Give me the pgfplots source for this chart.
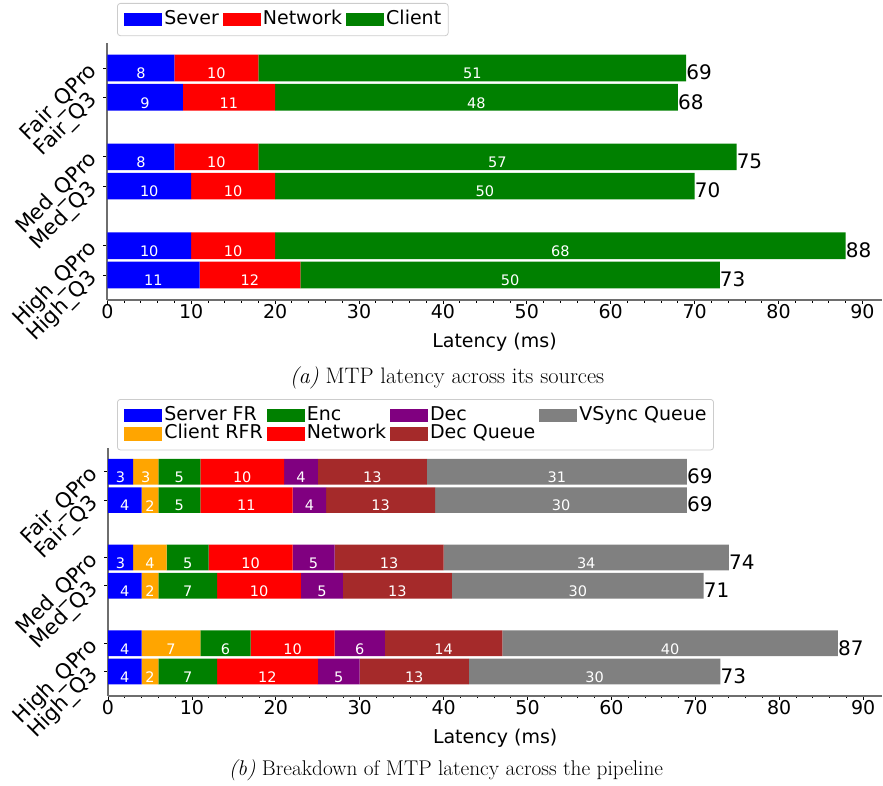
\documentclass[border=0pt]{standalone}
\usepackage{fontspec}
\newfontfamily\dejavu{DejaVu Sans}
\usepackage{pgfplots}
\pgfplotsset{compat=1.18}
\usepackage{pgfplotstable}
\newcommand\df[1]{\dejavu\fontsize{#1}{#1}\selectfont}

\definecolor{mgreen}{RGB}{0,128,0}
\definecolor{morange}{RGB}{255,165,0}
\definecolor{mpurple}{RGB}{128,0,128}
\definecolor{mbrown}{RGB}{165,42,42}
\definecolor{mgray}{RGB}{128,128,128}
\definecolor{spine}{RGB}{110,110,110}

% panel (a): Server, Network, Client
\pgfplotstableread{
y server network client total
-0.165 11 12 50 73
0.165 10 10 68 88
0.835 10 10 50 70
1.165 8 10 57 75
1.835 9 11 48 68
2.165 8 10 51 69
}\tabA

% panel (b): pipeline stages
\pgfplotstableread{
y sfr crfr enc net dec decq vsync total
-0.165 4 2 7 12 5 13 30 73
0.165 4 7 6 10 6 14 40 87
0.835 4 2 7 10 5 13 30 71
1.165 3 4 5 10 5 13 34 74
1.835 4 2 5 11 4 13 30 69
2.165 3 3 5 10 4 13 31 69
}\tabB

\pgfplotsset{
  /pgf/number format/assume math mode=true,
  barleg/.style={legend image code/.code={\fill[##1, sharp corners] (0pt,-6.7pt) rectangle (38pt,6.7pt);}},
  base/.style={
    scale only axis, width=774.4pt,
    xmin=0, xmax=92.3, ymin=-0.4465, ymax=2.4465,
  },
  frame/.style={
    base,
    axis lines=left,
    axis line style={-, draw=spine, line width=1.6pt},
    tick align=outside,
    major tick length=4pt, minor tick length=2.5pt,
    tick style={black, line width=0.8pt},
    xtick={0,10,...,90}, minor x tick num=4,
    ytick={-0.165,0.165,0.835,1.165,1.835,2.165},
    yticklabels={High\_Q3,High\_QPro,Med\_Q3,Med\_QPro,Fair\_Q3,Fair\_QPro},
    ytick style={draw=black},
    yticklabel style={rotate=45, anchor=east, inner sep=0pt, font=\df{21}},
    yticklabel shift=9pt,
    xticklabel style={font=\df{19}, inner sep=0pt, anchor=north},
    xlabel={Latency (ms)},
    xlabel style={font=\df{19}, at={(axis description cs:0.5,0)}, anchor=base},
    xbar stacked, bar width=0.3, bar shift=0pt,
    legend style={anchor=north west, draw=black!20, line width=0.8pt, rounded corners=3pt,
      inner xsep=7pt, inner ysep=7pt, font=\df{19},
      nodes={inner sep=0pt, text height=14pt, text depth=4.3pt},
      /tikz/every even column/.append style={column sep=4pt},
      /tikz/every odd column/.append style={column sep=2pt}},
    legend cell align=left,
  },
  lab/.style={only marks, mark=*, mark size=0pt, mark options={draw=none, fill=none},
    nodes near coords, point meta=explicit,
    nodes near coords style={font=\df{14.5}, text=white, anchor=center, inner sep=0pt, yshift=-5.5pt}},
  tot/.style={lab, nodes near coords style={font=\df{20}, text=black, anchor=west, inner sep=0pt, yshift=1pt}},
}

\begin{document}
\begin{tikzpicture}
\useasboundingbox (0pt,0pt) rectangle (883pt,-786pt);

% ---------------- panel (a) ----------------
\begin{axis}[frame, at={(107.3pt,-300pt)}, anchor=south west, height=257pt,
  xlabel style={yshift=-47pt},
  legend columns=3,
  legend style={at={(axis description cs:0,1)}, xshift=9.7pt, yshift=40pt}]
\addplot[fill=blue, draw=none, barleg] table[x=server, y=y]{\tabA};
\addplot[fill=red, draw=none, barleg] table[x=network, y=y]{\tabA};
\addplot[fill=mgreen, draw=none, barleg] table[x=client, y=y]{\tabA};
\legend{Sever,Network,Client}
\end{axis}

\begin{axis}[base, at={(107.3pt,-300pt)}, anchor=south west, height=257pt, hide axis, clip=false]
\addplot[lab] table[x expr=0.5*\thisrow{server}, y=y, meta=server]{\tabA};
\addplot[lab] table[x expr=\thisrow{server}+0.5*\thisrow{network}, y=y, meta=network]{\tabA};
\addplot[lab] table[x expr=\thisrow{server}+\thisrow{network}+0.5*\thisrow{client}, y=y, meta=client]{\tabA};
\addplot[tot] table[x expr=\thisrow{server}+\thisrow{network}+\thisrow{client}, y=y, meta=total]{\tabA};
\end{axis}

\node[anchor=base, font=\fontsize{22.4}{22.4}\selectfont] at (447pt,-383pt) {\textit{(a)} MTP latency across its sources};

% ---------------- panel (b) ----------------
\begin{axis}[frame, at={(108pt,-695.7pt)}, anchor=south west, height=248pt,
  xlabel style={yshift=-47.3pt},
  legend columns=4,
  legend style={at={(axis description cs:0,1)}, xshift=9pt, yshift=48.7pt}]
\addplot[fill=blue, draw=none, forget plot] table[x=sfr, y=y]{\tabB};
\addplot[fill=morange, draw=none, forget plot] table[x=crfr, y=y]{\tabB};
\addplot[fill=mgreen, draw=none, forget plot] table[x=enc, y=y]{\tabB};
\addplot[fill=red, draw=none, forget plot] table[x=net, y=y]{\tabB};
\addplot[fill=mpurple, draw=none, forget plot] table[x=dec, y=y]{\tabB};
\addplot[fill=mbrown, draw=none, forget plot] table[x=decq, y=y]{\tabB};
\addplot[fill=mgray, draw=none, forget plot] table[x=vsync, y=y]{\tabB};
\addlegendimage{fill=blue, draw=none, barleg}\addlegendentry{Server FR}
\addlegendimage{fill=mgreen, draw=none, barleg}\addlegendentry{Enc}
\addlegendimage{fill=mpurple, draw=none, barleg}\addlegendentry{Dec}
\addlegendimage{fill=mgray, draw=none, barleg}\addlegendentry{VSync Queue}
\addlegendimage{fill=morange, draw=none, barleg}\addlegendentry{Client RFR}
\addlegendimage{fill=red, draw=none, barleg}\addlegendentry{Network}
\addlegendimage{fill=mbrown, draw=none, barleg}\addlegendentry{Dec Queue}
\end{axis}

\begin{axis}[base, at={(108pt,-695.7pt)}, anchor=south west, height=248pt, hide axis, clip=false]
\addplot[lab] table[x expr=0.5*\thisrow{sfr}, y=y, meta=sfr]{\tabB};
\addplot[lab] table[x expr=\thisrow{sfr}+0.5*\thisrow{crfr}, y=y, meta=crfr]{\tabB};
\addplot[lab] table[x expr=\thisrow{sfr}+\thisrow{crfr}+0.5*\thisrow{enc}, y=y, meta=enc]{\tabB};
\addplot[lab] table[x expr=\thisrow{sfr}+\thisrow{crfr}+\thisrow{enc}+0.5*\thisrow{net}, y=y, meta=net]{\tabB};
\addplot[lab] table[x expr=\thisrow{sfr}+\thisrow{crfr}+\thisrow{enc}+\thisrow{net}+0.5*\thisrow{dec}, y=y, meta=dec]{\tabB};
\addplot[lab] table[x expr=\thisrow{sfr}+\thisrow{crfr}+\thisrow{enc}+\thisrow{net}+\thisrow{dec}+0.5*\thisrow{decq}, y=y, meta=decq]{\tabB};
\addplot[lab] table[x expr=\thisrow{sfr}+\thisrow{crfr}+\thisrow{enc}+\thisrow{net}+\thisrow{dec}+\thisrow{decq}+0.5*\thisrow{vsync}, y=y, meta=vsync]{\tabB};
\addplot[tot] table[x expr=\thisrow{sfr}+\thisrow{crfr}+\thisrow{enc}+\thisrow{net}+\thisrow{dec}+\thisrow{decq}+\thisrow{vsync}, y=y, meta=total]{\tabB};
\end{axis}

\node[anchor=base, font=\fontsize{21.3}{21.3}\selectfont] at (446pt,-775pt) {\textit{(b)} Breakdown of MTP latency across the pipeline};
\end{tikzpicture}
\end{document}
